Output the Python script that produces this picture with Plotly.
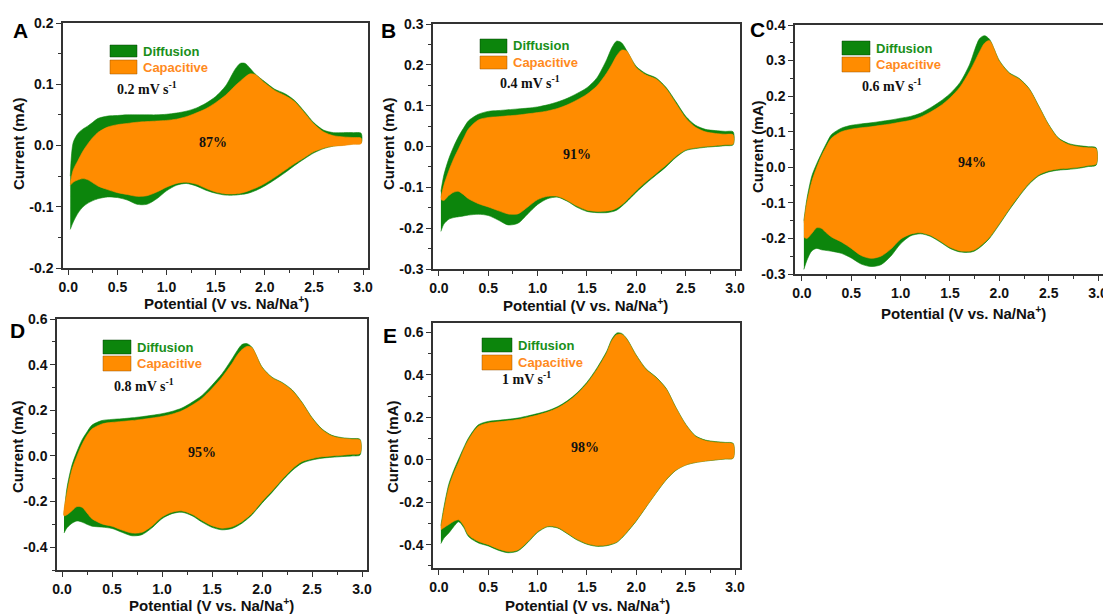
import plotly.graph_objects as go

# ---------------- data ----------------
POTENTIAL = [0.02, 0.05, 0.1, 0.15, 0.2, 0.25, 0.3, 0.4, 0.5, 0.6, 0.7, 0.8, 0.9, 1.0,
             1.1, 1.2, 1.3, 1.4, 1.5, 1.6, 1.7, 1.75, 1.8, 1.85, 1.9, 2.0, 2.1, 2.2,
             2.3, 2.4, 2.5, 2.6, 2.7, 2.8, 2.9, 2.98]

# Panel A, 0.2 mV/s
A_TOTAL_ANODIC = [-0.05, 0.005, 0.02, 0.027, 0.032, 0.038, 0.044, 0.048, 0.049, 0.05, 0.05, 0.05,
                  0.05, 0.051, 0.053, 0.056, 0.061, 0.069, 0.08, 0.097, 0.125, 0.134, 0.134, 0.126,
                  0.117, 0.104, 0.092, 0.085, 0.074, 0.056, 0.037, 0.025, 0.021, 0.021, 0.021, 0.02]
A_TOTAL_CATHODIC = [-0.137, -0.125, -0.11, -0.1, -0.094, -0.09, -0.087, -0.084, -0.085, -0.089, -0.096,
                    -0.096, -0.087, -0.074, -0.065, -0.062, -0.066, -0.073, -0.078, -0.081, -0.081,
                    -0.08, -0.079, -0.077, -0.074, -0.066, -0.056, -0.045, -0.033, -0.022, -0.012,
                    -0.005, -0.001, 0.001, 0.003, 0.004]
A_CAP_ANODIC = [-0.062, -0.04, -0.024, -0.009, 0.003, 0.013, 0.021, 0.03, 0.034, 0.036, 0.038, 0.039,
                0.04, 0.041, 0.043, 0.047, 0.053, 0.06, 0.07, 0.082, 0.098, 0.105, 0.112, 0.117,
                0.116, 0.102, 0.09, 0.082, 0.072, 0.054, 0.035, 0.022, 0.016, 0.014, 0.013, 0.012]
A_CAP_CATHODIC = [-0.065, -0.06, -0.056, -0.054, -0.056, -0.061, -0.066, -0.072, -0.077, -0.08, -0.083,
                  -0.082, -0.076, -0.068, -0.062, -0.06, -0.063, -0.07, -0.076, -0.079, -0.079,
                  -0.078, -0.076, -0.073, -0.07, -0.062, -0.052, -0.041, -0.03, -0.02, -0.01,
                  -0.004, -0.001, 0.0, 0.002, 0.003]

# Panel B, 0.4 mV/s
B_TOTAL_ANODIC = [-0.11, -0.07, -0.03, 0.0, 0.025, 0.045, 0.063, 0.079, 0.086, 0.088, 0.09, 0.092,
                  0.094, 0.097, 0.102, 0.109, 0.118, 0.13, 0.144, 0.168, 0.213, 0.241, 0.258, 0.254,
                  0.236, 0.196, 0.178, 0.168, 0.145, 0.11, 0.074, 0.052, 0.042, 0.039, 0.037, 0.036]
B_TOTAL_CATHODIC = [-0.208, -0.19, -0.178, -0.174, -0.172, -0.17, -0.168, -0.166, -0.169, -0.18, -0.192,
                    -0.188, -0.165, -0.142, -0.128, -0.124, -0.134, -0.149, -0.159, -0.162, -0.162,
                    -0.16, -0.156, -0.147, -0.136, -0.112, -0.09, -0.07, -0.05, -0.027, -0.01,
                    -0.005, -0.002, 0.0, 0.002, 0.004]
B_CAP_ANODIC = [-0.125, -0.095, -0.06, -0.03, -0.005, 0.02, 0.043, 0.065, 0.071, 0.073, 0.075, 0.077,
                0.08, 0.083, 0.087, 0.093, 0.102, 0.114, 0.128, 0.148, 0.18, 0.2, 0.222, 0.236,
                0.234, 0.193, 0.175, 0.165, 0.142, 0.106, 0.07, 0.047, 0.036, 0.032, 0.03, 0.029]
B_CAP_CATHODIC = [-0.13, -0.132, -0.12, -0.112, -0.11, -0.118, -0.128, -0.14, -0.148, -0.157, -0.165,
                  -0.165, -0.148, -0.13, -0.122, -0.122, -0.132, -0.146, -0.156, -0.159, -0.158,
                  -0.156, -0.151, -0.143, -0.132, -0.108, -0.086, -0.066, -0.046, -0.024, -0.008,
                  -0.003, 0.0, 0.002, 0.004, 0.006]

# Panel C, 0.6 mV/s
C_TOTAL_ANODIC = [-0.15, -0.09, -0.025, 0.01, 0.04, 0.068, 0.092, 0.11, 0.118, 0.122, 0.125, 0.129,
                  0.133, 0.138, 0.143, 0.152, 0.167, 0.185, 0.207, 0.238, 0.29, 0.33, 0.362, 0.37,
                  0.36, 0.3, 0.266, 0.25, 0.222, 0.172, 0.12, 0.082, 0.067, 0.061, 0.058, 0.055]
C_TOTAL_CATHODIC = [-0.287, -0.262, -0.235, -0.228, -0.232, -0.234, -0.236, -0.242, -0.255, -0.272,
                    -0.279, -0.274, -0.25, -0.215, -0.193, -0.187, -0.194, -0.21, -0.228, -0.238,
                    -0.239, -0.235, -0.226, -0.214, -0.2, -0.161, -0.12, -0.082, -0.048, -0.024,
                    -0.013, -0.008, -0.006, -0.003, 0.002, 0.006]
C_CAP_ANODIC = [-0.155, -0.1, -0.04, 0.0, 0.033, 0.06, 0.082, 0.1, 0.107, 0.111, 0.114, 0.118,
                0.122, 0.127, 0.132, 0.141, 0.155, 0.172, 0.195, 0.225, 0.27, 0.297, 0.325, 0.349,
                0.356, 0.298, 0.264, 0.248, 0.22, 0.17, 0.118, 0.08, 0.064, 0.058, 0.055, 0.052]
C_CAP_CATHODIC = [-0.197, -0.2, -0.186, -0.17, -0.172, -0.185, -0.196, -0.21, -0.228, -0.248, -0.256,
                  -0.25, -0.23, -0.202, -0.188, -0.184, -0.191, -0.207, -0.225, -0.235, -0.236,
                  -0.232, -0.223, -0.211, -0.197, -0.158, -0.117, -0.079, -0.045, -0.021, -0.01,
                  -0.005, -0.003, 0.0, 0.005, 0.009]

# Panel D, 0.8 mV/s
D_TOTAL_ANODIC = [-0.26, -0.14, -0.04, 0.02, 0.07, 0.105, 0.135, 0.155, 0.16, 0.163, 0.167, 0.172,
                  0.178, 0.185, 0.195, 0.21, 0.235, 0.265, 0.31, 0.36, 0.425, 0.46, 0.488, 0.492,
                  0.476, 0.39, 0.345, 0.322, 0.29, 0.235, 0.168, 0.118, 0.09, 0.08, 0.076, 0.073]
D_TOTAL_CATHODIC = [-0.338, -0.315, -0.295, -0.285, -0.29, -0.3, -0.308, -0.312, -0.318, -0.335,
                    -0.35, -0.345, -0.315, -0.275, -0.253, -0.247, -0.262, -0.29, -0.313, -0.324,
                    -0.318, -0.308, -0.295, -0.278, -0.258, -0.207, -0.16, -0.11, -0.065, -0.032,
                    -0.018, -0.01, -0.006, -0.003, 0.0, 0.004]
D_CAP_ANODIC = [-0.262, -0.16, -0.06, 0.0, 0.05, 0.09, 0.118, 0.14, 0.147, 0.151, 0.155, 0.16,
                0.166, 0.173, 0.183, 0.198, 0.222, 0.252, 0.295, 0.345, 0.405, 0.44, 0.466, 0.48,
                0.474, 0.387, 0.342, 0.319, 0.287, 0.232, 0.165, 0.115, 0.087, 0.077, 0.073, 0.07]
D_CAP_CATHODIC = [-0.262, -0.258, -0.24, -0.222, -0.225, -0.25, -0.275, -0.298, -0.308, -0.325,
                  -0.338, -0.335, -0.307, -0.268, -0.247, -0.241, -0.256, -0.283, -0.306, -0.317,
                  -0.311, -0.301, -0.288, -0.271, -0.252, -0.2, -0.153, -0.103, -0.058, -0.025,
                  -0.012, -0.004, 0.0, 0.003, 0.007, 0.011]

# Panel E, 1 mV/s
E_TOTAL_ANODIC = [-0.31, -0.225, -0.115, -0.05, 0.004, 0.056, 0.103, 0.165, 0.181, 0.186, 0.191, 0.197,
                  0.207, 0.218, 0.231, 0.25, 0.278, 0.316, 0.366, 0.432, 0.512, 0.567, 0.597, 0.596,
                  0.573, 0.493, 0.428, 0.39, 0.338, 0.248, 0.168, 0.113, 0.093, 0.086, 0.082, 0.078]
E_TOTAL_CATHODIC = [-0.395, -0.37, -0.345, -0.315, -0.292, -0.318, -0.362, -0.392, -0.406, -0.426,
                    -0.438, -0.43, -0.39, -0.342, -0.316, -0.321, -0.348, -0.378, -0.398, -0.408,
                    -0.405, -0.399, -0.39, -0.37, -0.345, -0.288, -0.222, -0.157, -0.096, -0.05,
                    -0.025, -0.013, -0.006, -0.001, 0.004, 0.007]
E_CAP_ANODIC = [-0.32, -0.24, -0.13, -0.063, -0.01, 0.047, 0.095, 0.158, 0.174, 0.179, 0.184, 0.19,
                0.2, 0.211, 0.225, 0.244, 0.272, 0.31, 0.36, 0.425, 0.505, 0.56, 0.59, 0.592,
                0.57, 0.49, 0.425, 0.387, 0.335, 0.245, 0.165, 0.11, 0.09, 0.083, 0.079, 0.075]
E_CAP_CATHODIC = [-0.33, -0.32, -0.305, -0.29, -0.283, -0.31, -0.355, -0.385, -0.4, -0.42, -0.432,
                  -0.425, -0.385, -0.338, -0.313, -0.318, -0.345, -0.375, -0.395, -0.405, -0.402,
                  -0.396, -0.387, -0.367, -0.342, -0.285, -0.22, -0.155, -0.094, -0.048, -0.024,
                  -0.012, -0.005, 0.0, 0.005, 0.008]

PANEL_LETTERS = ["A", "B", "C", "D", "E"]
SCAN_RATES = ["0.2 mV s<sup>-1</sup>", "0.4 mV s<sup>-1</sup>", "0.6 mV s<sup>-1</sup>",
              "0.8 mV s<sup>-1</sup>", "1 mV s<sup>-1</sup>"]
CAP_PERCENT = ["87%", "91%", "94%", "95%", "98%"]
X_TICKS = [0.0, 0.5, 1.0, 1.5, 2.0, 2.5, 3.0]
X_TICK_TEXT = ["0.0", "0.5", "1.0", "1.5", "2.0", "2.5", "3.0"]
X_MINOR = [0.25, 0.75, 1.25, 1.75, 2.25, 2.75]
Y_TICKS_A = [-0.2, -0.1, 0.0, 0.1, 0.2]
Y_TICKS_B = [-0.3, -0.2, -0.1, 0.0, 0.1, 0.2, 0.3]
Y_TICKS_C = [-0.3, -0.2, -0.1, 0.0, 0.1, 0.2, 0.3, 0.4]
Y_TICKS_D = [-0.4, -0.2, 0.0, 0.2, 0.4, 0.6]
Y_TICKS_E = [-0.4, -0.2, 0.0, 0.2, 0.4, 0.6]
Y_MINOR_A = [-0.15, -0.05, 0.05, 0.15]
Y_MINOR_B = [-0.25, -0.15, -0.05, 0.05, 0.15, 0.25]
Y_MINOR_C = [-0.25, -0.15, -0.05, 0.05, 0.15, 0.25, 0.35]
Y_MINOR_D = [-0.5, -0.3, -0.1, 0.1, 0.3, 0.5]
Y_MINOR_E = [-0.5, -0.3, -0.1, 0.1, 0.3, 0.5]

SERIES = [
    (A_TOTAL_ANODIC, A_TOTAL_CATHODIC, A_CAP_ANODIC, A_CAP_CATHODIC, Y_TICKS_A, Y_MINOR_A),
    (B_TOTAL_ANODIC, B_TOTAL_CATHODIC, B_CAP_ANODIC, B_CAP_CATHODIC, Y_TICKS_B, Y_MINOR_B),
    (C_TOTAL_ANODIC, C_TOTAL_CATHODIC, C_CAP_ANODIC, C_CAP_CATHODIC, Y_TICKS_C, Y_MINOR_C),
    (D_TOTAL_ANODIC, D_TOTAL_CATHODIC, D_CAP_ANODIC, D_CAP_CATHODIC, Y_TICKS_D, Y_MINOR_D),
    (E_TOTAL_ANODIC, E_TOTAL_CATHODIC, E_CAP_ANODIC, E_CAP_CATHODIC, Y_TICKS_E, Y_MINOR_E),
]

# ---------------- layout / style ----------------
PAGE_MARGIN = 8            # the browser's default body margin
W, H = 1111 - PAGE_MARGIN, 614 - PAGE_MARGIN
GREEN = "#0c850c"
ORANGE = "#ff8c00"
GREEN_TXT = "#1a8f1a"
ORANGE_TXT = "#ff8a1c"
AXC = "#333333"
SANS = "Liberation Sans, Arial, sans-serif"
SERIF = "Liberation Serif, Times New Roman, serif"

# frame boxes in screen pixels: left, right, top, bottom
LAYOUT = [
    dict(box=(63, 368, 23, 268), xr=[-0.054, 3.05], yr=[-0.2, 0.2],
         letter=(20, 31), ytitle=(18, 144), xtitle=(226, 302),
         leg=(110, 137, 45, 57, 60, 74), scan=(115, 88), pct=(213, 143)),
    dict(box=(433, 740, 24, 269), xr=[-0.06, 3.05], yr=[-0.3, 0.3],
         letter=(388, 31), ytitle=(388, 144), xtitle=(585, 304),
         leg=(480, 507, 39, 53, 56, 69), scan=(498, 82), pct=(577, 154)),
    dict(box=(795, 1103, 25, 274), xr=[-0.07, 3.05], yr=[-0.3, 0.4],
         letter=(757, 30), ytitle=(757, 147), xtitle=(963, 312),
         leg=(842, 870, 41, 55, 57, 72), scan=(860, 85), pct=(972, 163)),
    dict(box=(57, 367, 319, 570), xr=[-0.05, 3.05], yr=[-0.5, 0.6],
         letter=(17, 330), ytitle=(17, 447), xtitle=(211, 604),
         leg=(103, 131, 340, 354, 356, 371), scan=(112, 385), pct=(202, 452)),
    dict(box=(433, 740, 323, 568), xr=[-0.06, 3.05], yr=[-0.51, 0.645],
         letter=(390, 335), ytitle=(392, 447), xtitle=(587, 604),
         leg=(482, 512, 338, 352, 355, 370), scan=(500, 378), pct=(585, 447)),
]


def fx(p):
    return (p - PAGE_MARGIN) / W


def fy(p):
    return 1 - (p - PAGE_MARGIN) / H


fig = go.Figure()
annotations = []
shapes = []

for i, (series, lay) in enumerate(zip(SERIES, LAYOUT)):
    tot_up, tot_dn, cap_up, cap_dn, yticks, yminor = series
    n = "" if i == 0 else str(i + 1)
    xa, ya = "x" + n, "y" + n
    loop_x = POTENTIAL + POTENTIAL[::-1]
    for up, dn, col in ((tot_up, tot_dn, GREEN), (cap_up, cap_dn, ORANGE)):
        fig.add_trace(go.Scatter(
            x=loop_x, y=up + dn[::-1], xaxis=xa, yaxis=ya, mode="lines",
            fill="toself", fillcolor=col,
            line=dict(color=col, width=0.6, shape="spline", smoothing=0.8),
            hoverinfo="skip", showlegend=False))

    l, r, t, b = lay["box"]
    tickfont = dict(family=SANS, size=14, color="#111111", weight="bold")
    fig.update_layout(**{
        "xaxis" + n: dict(
            domain=[fx(l), fx(r)], range=lay["xr"], anchor=ya, automargin=False,
            tickmode="array", tickvals=X_TICKS, ticktext=X_TICK_TEXT, tickfont=tickfont,
            ticks="outside", ticklen=5, tickwidth=1.2, tickcolor=AXC,
            minor=dict(tickmode="array", tickvals=X_MINOR, ticks="outside", ticklen=3,
                       tickcolor=AXC, tickwidth=1),
            showline=True, linecolor=AXC, linewidth=1.5, mirror=True,
            showgrid=False, zeroline=False),
        "yaxis" + n: dict(
            domain=[fy(b), fy(t)], range=lay["yr"], anchor=xa, automargin=False,
            tickmode="array", tickvals=yticks, ticktext=["%.1f" % v for v in yticks],
            tickfont=tickfont,
            ticks="outside", ticklen=5, tickwidth=1.2, tickcolor=AXC,
            minor=dict(tickmode="array", tickvals=yminor, ticks="outside", ticklen=3,
                       tickcolor=AXC, tickwidth=1),
            showline=True, linecolor=AXC, linewidth=1.5, mirror=True,
            showgrid=False, zeroline=False),
    })

    annotations.append(dict(x=fx(lay["letter"][0]), y=fy(lay["letter"][1]), xref="paper", yref="paper",
                            text=PANEL_LETTERS[i], showarrow=False, xanchor="center", yanchor="middle",
                            font=dict(family=SANS, size=21, color="#000000", weight="bold")))
    annotations.append(dict(x=fx(lay["ytitle"][0]), y=fy(lay["ytitle"][1]), xref="paper", yref="paper",
                            text="Current (mA)", textangle=-90, showarrow=False,
                            xanchor="center", yanchor="middle",
                            font=dict(family=SANS, size=15, color="#111111", weight="bold")))
    annotations.append(dict(x=fx(lay["xtitle"][0]), y=fy(lay["xtitle"][1]), xref="paper", yref="paper",
                            text="Potential (V vs. Na/Na<sup>+</sup>)", showarrow=False,
                            xanchor="center", yanchor="middle",
                            font=dict(family=SANS, size=15, color="#111111", weight="bold")))
    lx0, lx1, gy0, gy1, oy0, oy1 = lay["leg"]
    shapes.append(dict(type="rect", xref="paper", yref="paper", x0=fx(lx0), x1=fx(lx1),
                       y0=fy(gy1), y1=fy(gy0), fillcolor=GREEN,
                       line=dict(color="rgba(0,60,0,0.6)", width=0.8)))
    shapes.append(dict(type="rect", xref="paper", yref="paper", x0=fx(lx0), x1=fx(lx1),
                       y0=fy(oy1), y1=fy(oy0), fillcolor=ORANGE,
                       line=dict(color="rgba(150,80,0,0.6)", width=0.8)))
    annotations.append(dict(x=fx(lx1 + 4), y=fy((gy0 + gy1) / 2), xref="paper", yref="paper",
                            text="Diffusion", showarrow=False, xanchor="left", yanchor="middle",
                            font=dict(family=SANS, size=13, color=GREEN_TXT, weight="bold")))
    annotations.append(dict(x=fx(lx1 + 4), y=fy((oy0 + oy1) / 2), xref="paper", yref="paper",
                            text="Capacitive", showarrow=False, xanchor="left", yanchor="middle",
                            font=dict(family=SANS, size=13, color=ORANGE_TXT, weight="bold")))
    annotations.append(dict(x=fx(lay["scan"][0]), y=fy(lay["scan"][1]), xref="paper", yref="paper",
                            text=SCAN_RATES[i], showarrow=False, xanchor="left", yanchor="middle",
                            font=dict(family=SERIF, size=14, color="#111111", weight="bold")))
    annotations.append(dict(x=fx(lay["pct"][0]), y=fy(lay["pct"][1]), xref="paper", yref="paper",
                            text=CAP_PERCENT[i], showarrow=False, xanchor="center", yanchor="middle",
                            font=dict(family=SERIF, size=14, color="#111111", weight="bold")))

fig.update_layout(width=W, height=H, margin=dict(l=0, r=0, t=0, b=0, autoexpand=False),
                  paper_bgcolor="white", plot_bgcolor="white",
                  annotations=annotations, shapes=shapes, showlegend=False)

fig.write_html("out.html")
